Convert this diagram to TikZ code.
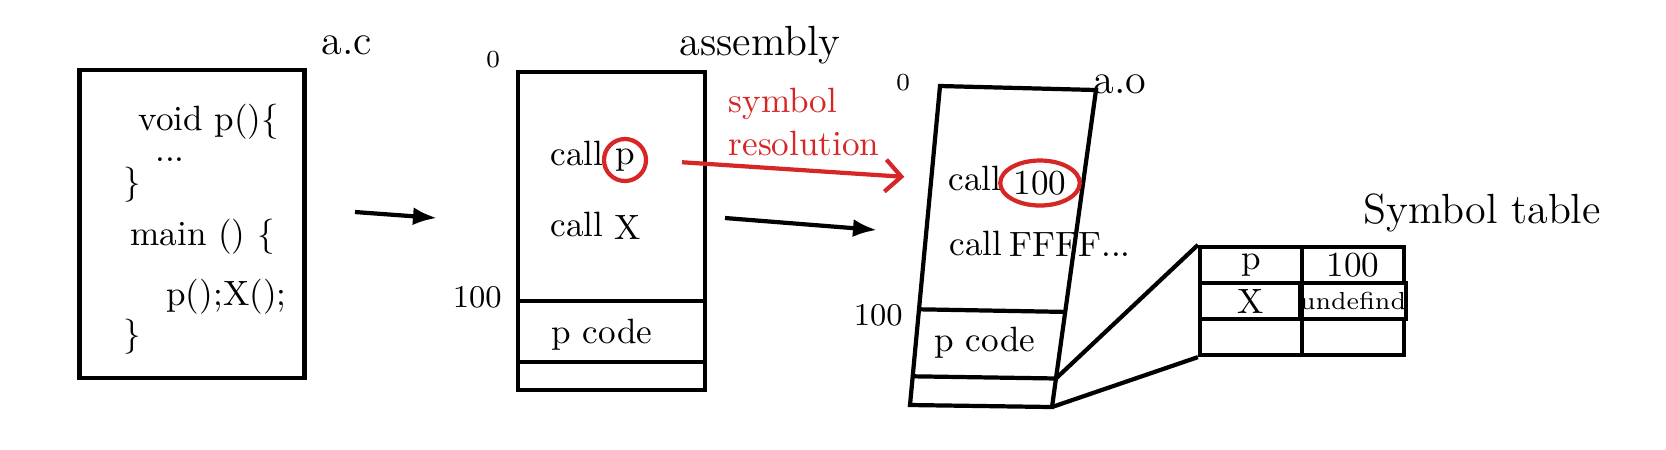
\documentclass[tikz,border=0pt]{standalone}
\usepackage{tikz}
\usetikzlibrary{arrows.meta,calc,shapes.geometric}
\definecolor{resred}{RGB}{214,38,38}

\begin{document}
\begin{tikzpicture}[
  font=\normalsize,
  box/.style={draw, very thick, inner sep=0},
  lbl/.style={font=\large},
  addr/.style={font=\small},
  cell/.style={draw, very thick, minimum width=1.02cm, minimum height=0.36cm, inner sep=0},
  arr/.style={very thick, -{Latex[length=2.4mm]}},
  hl/.style={draw=resred, very thick, inner sep=1pt},
]
\useasboundingbox (0,0) rectangle (16.66,-4.49);
% --- a.c (zrodlo) ---
\node[box, minimum width=2.25cm, minimum height=3.08cm] (src) at (1.92,-2.24) {};
\node[lbl] (srcname) at (3.47,-0.45) {a.c};
\node[anchor=west] (c1) at (1.26,-1.22) {void p()\{};
\node[inner sep=1pt] (c2) at (1.70,-1.60) {...};
\node (c3) at (1.32,-1.85) {\}};
\node[anchor=west] (c4) at (1.18,-2.37) {main () \{};
\node[anchor=west] (c5) at (1.54,-2.97) {p();X();};
\node (c6) at (1.32,-3.37) {\}};
\coordinate (a1s) at (3.55,-2.12);
\coordinate (a1e) at (4.37,-2.18);
\draw[arr] (a1s) -- (a1e);
% ===================== assembly =====================
\node[box, minimum width=1.87cm, minimum height=3.18cm] (asm) at (6.115,-2.31) {};
\draw[very thick] ($(asm.north west)!0.717!(asm.south west)$) coordinate (asm-d1) -- ($(asm.north east)!0.717!(asm.south east)$);
\draw[very thick] ($(asm.north west)!0.906!(asm.south west)$) -- ($(asm.north east)!0.906!(asm.south east)$);
\node[lbl] (asmname) at (7.60,-0.45) {assembly};
\node[font=\scriptsize] (asm0) at (4.93,-0.60) {0};
\node[addr, anchor=east] (asm100) at (5.14,-2.97) {100};
\node[anchor=west] (ac1) at (5.38,-1.53) {call};
\node[hl, circle, minimum size=0.42cm] (ap) at (6.25,-1.60) {p};
\node[anchor=west] (ac2) at (5.38,-2.24) {call};
\node (ax) at (6.28,-2.27) {X};
\node (apc) at (6.02,-3.35) {p code};
% --- symbol resolution ---
\node[text=resred, align=left, anchor=west, inner sep=0] (res) at (7.28,-1.22) {symbol\\resolution};
\coordinate (a2s) at (7.25,-2.18);
\coordinate (a2e) at (8.77,-2.30);
\draw[arr] (a2s) -- (a2e);
% ===================== a.o =====================
\coordinate (o-tl) at (9.40,-0.86);
\coordinate (o-tr) at (10.96,-0.90);
\coordinate (o-br) at (10.52,-4.07);
\coordinate (o-bl) at (9.10,-4.05);
\draw[very thick] (o-tl) -- (o-tr) -- (o-br) -- (o-bl) -- cycle;
\draw[very thick] ($(o-tl)!0.70!(o-bl)$) coordinate (o-d1l) -- ($(o-tr)!0.70!(o-br)$) coordinate (o-d1r);
\draw[very thick] ($(o-tl)!0.91!(o-bl)$) coordinate (o-d2l) -- ($(o-tr)!0.91!(o-br)$) coordinate (o-d2r);
\node[lbl] (objname) at (11.20,-0.84) {a.o};
\node[font=\scriptsize] (obj0) at (9.03,-0.83) {0};
\node[anchor=west] (oc1) at (9.36,-1.78) {call};
\node[hl, ellipse, inner sep=0.5pt, minimum width=0.7cm, minimum height=0.45cm] (oref) at (10.40,-1.83) {100};
\node[anchor=west] (oc2) at (9.37,-2.43) {call};
\node[anchor=west] (offf) at (9.97,-2.45) {FFFF...};
\node (opc) at (9.85,-3.43) {p code};
\node[addr, anchor=east] (obj100) at (9.15,-3.15) {100};
\draw[resred, very thick, -{Straight Barb[length=1.6mm, width=3.2mm]}, shorten <=3.4mm, shorten >=9.4mm] (ap.east) -- (oref.west);
% ===================== symbol table =====================
\node[lbl] (tabname) at (14.82,-2.13) {Symbol table};
\node[cell] (t11) at (12.51,-2.65) {p};
\node[cell] (t12) at (13.53,-2.65) {100};
\node[cell] (t21) at (12.51,-3.01) {X};
\node[cell, font=\scriptsize] (t22) at (13.53,-3.01) {undefind};
\node[cell] (t31) at (12.51,-3.37) {};
\node[cell] (t32) at (13.53,-3.37) {};
\draw[very thick] (o-d2r) -- (t11.north west);
\draw[very thick] (o-br) -- (t31.south west);
\end{tikzpicture}
\end{document}
